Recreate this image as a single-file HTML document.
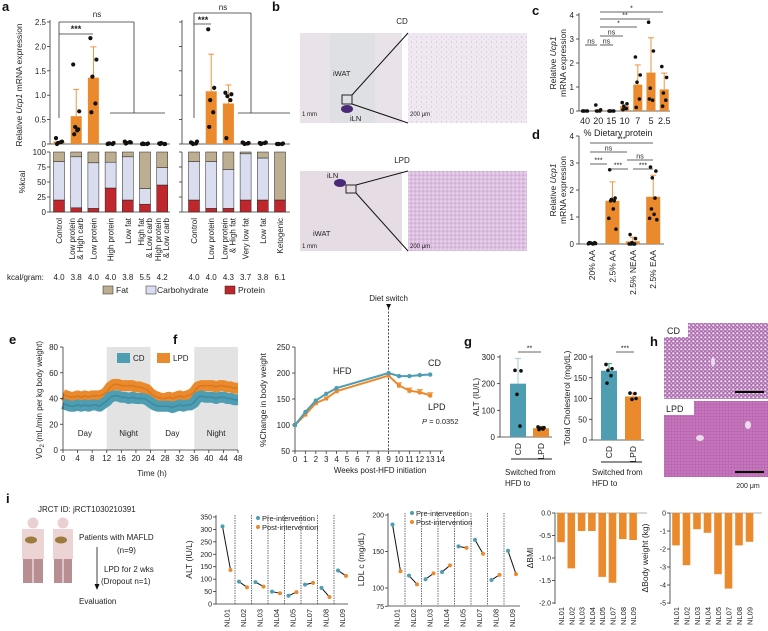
<!DOCTYPE html>
<html><head><meta charset="utf-8"><style>
html,body{margin:0;padding:0;background:#fff;}
svg{display:block;font-family:"Liberation Sans",Arial,sans-serif;}
</style></head><body>
<svg id="fig" width="768" height="631" viewBox="0 0 768 631" xmlns="http://www.w3.org/2000/svg">
<defs>
<pattern id="pWat" width="5" height="5" patternUnits="userSpaceOnUse"><rect width="5" height="5" fill="#f0e9f2"/><circle cx="1.5" cy="2" r="0.5" fill="#bfa5ca"/><circle cx="4" cy="4.2" r="0.4" fill="#d2bdd9"/></pattern>
<pattern id="pWat2" width="4" height="4" patternUnits="userSpaceOnUse"><rect width="4" height="4" fill="#dcbfe0"/><circle cx="1.2" cy="1.2" r="0.8" fill="#efe3f1"/><circle cx="3.2" cy="3.2" r="0.5" fill="#b888c4"/></pattern>
<pattern id="pHcd" width="4" height="4" patternUnits="userSpaceOnUse"><rect width="4" height="4" fill="#b26cb0"/><circle cx="1.3" cy="1.3" r="1.1" fill="#e8e0ee"/><circle cx="3.3" cy="3.2" r="0.7" fill="#ddd2e6"/></pattern>
<pattern id="pHlpd" width="3" height="3" patternUnits="userSpaceOnUse"><rect width="3" height="3" fill="#c06cb6"/><circle cx="1" cy="1" r="0.45" fill="#d9a6d2"/><circle cx="2.4" cy="2.4" r="0.35" fill="#a14d9c"/></pattern>
</defs>
</svg>
<script>
// ---------- data ----------
const aCats1=['Control','Low protein|& High carb','Low protein','High protein','Low fat','High fat|& Low carb','High protein|& Low carb'];
const aBar1=[0.05,0.57,1.36,0.01,0.03,0.01,0.01];
const aErr1=[0.08,1.12,1.99,0.02,0.05,0.02,0.02];
const aDots1=[[0.12,0.05,0.02,0.04,0.0],[1.63,0.67,0.35,0.3,0.2,0.28],[2.17,1.73,1.38,0.83,0.65],[0.0,0.02,0.01,0.0,0.01],[0.05,0.03,0.02,0.04,0.01],[0.0,0.01,0.0,0.0,0.01],[0.01,0.0,0.02,0.0,0.0]];
const aProt1=[20,7,6,40,20,13,45];
const aCarb1=[64,85,76,43,72,26,29];
const aKcal1=['4.0','3.8','4.0','4.0','3.8','5.5','4.2'];
const aCats2=['Control','Low protein','Low protein|& High fat','Very low fat','Low fat','Ketogenic'];
const aBar2=[0.02,1.08,0.83,0.02,0.02,0.0];
const aErr2=[0.04,1.84,1.21,0.03,0.03,0.01];
const aDots2=[[0.03,0.05,0.0,0.01,0.02],[2.35,1.15,0.9,0.65,0.35],[1.05,1.02,0.98,0.9,0.12],[0.03,0.02,0.0,0.01,0.02],[0.02,0.03,0.01,0.02,0.0],[0.0,0.01,0.0,0.0,0.0]];
const aProt2=[20,6,6,20,20,20];
const aCarb2=[64,78,65,77,70,0];
const aKcal2=['4.0','4.0','4.3','3.7','3.8','6.1'];
const cCats=['40','20','15','10','7','5','2.5'];
const cBar=[0.02,0.05,0.02,0.2,1.1,1.6,0.9];
const cErr=[0.03,0.1,0.03,0.3,1.92,3.05,1.58];
const cDots=[[0,0,0,0,0],[0.25,0.05,0,0,0],[0,0,0,0,0],[0.35,0.3,0.2,0.1,0.05],[2.25,1.5,1.2,0.5,0.15],[3.7,2.5,0.95,0.45,0.5],[1.85,1.4,0.75,0.45,0.2]];
const dCats=['20% AA','2.5% AA','2.5% NEAA','2.5% EAA'];
const dBar=[0.02,1.6,0.1,1.75];
const dErr=[0.05,2.3,0.25,2.55];
const dDots=[[0.05,0.05,0.03,0.02,0.04,0.0,0.01,0.02],[2.75,1.7,1.65,1.6,1.6,1.3,0.95,0.55],[0.35,0.2,0.05,0,0,0,0],[2.85,2.7,2.45,1.7,1.3,1.1,0.95,0.9]];
const eHours=[0,1,2,3,4,5,6,7,8,9,10,11,12,13,14,15,16,17,18,19,20,21,22,23,24,25,26,27,28,29,30,31,32,33,34,35,36,37,38,39,40,41,42,43,44,45,46,47,48];
const eCD=[36,35,34,34,35,34,35,34,35,35,34,36,38,41,42,42,41,41,40,41,40,40,40,39,37,35,34,34,34,34,33,34,35,34,35,35,37,41,42,41,41,41,40,41,41,40,40,39,39];
const eLPD=[43,42,41,41,42,41,42,41,42,42,42,43,45,49,51,51,50,50,50,50,49,49,48,47,44,42,41,40,40,41,40,41,42,41,42,43,45,49,50,50,50,50,49,50,50,49,49,48,48];
const fWeeks=[0,1,2,3,4,9,10,11,12,13];
const fCD=[100,125,147,160,171,200,194,194,196,197];
const fLPD=[100,120,142,151,165,195,176,166,163,157];
const gAltMean=[200,33];
const gAltDots=[[250,248,160,41],[38,35,32,30,28,33]];
const gAltErr=[295,40];
const gCholMean=[167,105];
const gCholDots=[[182,172,168,155,137],[113,100,98,112]];
const gCholErr=[184,113];
const iPts=['NL01','NL02','NL03','NL04','NL05','NL07','NL08','NL09'];
const iAltPre=[312,90,88,50,33,78,65,135];
const iAltPost=[137,67,70,43,48,85,28,113];
const iLdlPre=[187,117,112,122,157,166,111,151];
const iLdlPost=[123,105,120,131,155,147,118,119];
const iBmi=[-0.65,-1.23,-0.4,-0.4,-1.42,-1.55,-0.58,-0.6];
const iBw=[-1.8,-2.9,-0.9,-1.1,-3.4,-4.2,-1.8,-1.6];

// ---------- helpers ----------
const NS='http://www.w3.org/2000/svg';
const svg=document.getElementById('fig');
const OR='#ea8a2c', BL='#4f9db2', TXT='#222';
function mk(tag,attrs,name){
  const el=document.createElementNS(NS,tag);
  for(const k in attrs) el.setAttribute(k,attrs[k]);
  
  
  svg.appendChild(el);
  return el;
}
function ln(x1,y1,x2,y2,name,sw,col,dash){const a={x1:x1,y1:y1,x2:x2,y2:y2,stroke:col||'#333','stroke-width':sw||0.8};if(dash)a['stroke-dasharray']=dash;return mk('line',a,name);}
function tx(x,y,s,name,o){o=o||{};const a={x:x,y:y,'font-size':o.fs||8,fill:o.fill||TXT,'text-anchor':o.a||'start'};if(o.rot)a.transform='rotate('+o.rot+' '+x+' '+y+')';if(o.fw)a['font-weight']=o.fw;if(o.fst)a['font-style']=o.fst;const t=mk('text',a,name);if(o.html)t.innerHTML=s;else t.textContent=s;return t;}
function rc(x,y,w,h,fill,name,stroke,sw){const a={x:x,y:y,width:w,height:Math.max(0,h),fill:fill};if(stroke){a.stroke=stroke;a['stroke-width']=sw||0.6;}return mk('rect',a,name);}
function dot(x,y,name,r,fill){return mk('circle',{cx:x,cy:y,r:r||2.1,fill:fill||'#111'},name);}
const jit=[-3,3,-1,2,-2,1,-4,4];
function errbar(x,y1,y2,col,name){ln(x,y1,x,y2,name,0.9,col);ln(x-3,y2,x+3,y2,name+'-cap',0.9,col);}
function bracket(x1,x2,y,label,name,fs){ln(x1,y,x2,y,name,0.8,'#333');tx((x1+x2)/2,y-1.5,label,name+'-label',{fs:fs||7,a:'middle'});}

// ---------- panel letters ----------
[['a',2,11],['b',272,11],['c',532,15],['d',532,139],['e',9,344],['f',173,344],['g',464,346],['h',650,346],['i',6,503]].forEach(p=>tx(p[1],p[2],p[0],'panel-label-'+p[0],{fs:13,fw:'bold',fill:'#111'}));

// ---------- panel a ----------
function yA(v){return 144-v*48.8;}
function yS(p){return 212-p*0.6;}
function drawA(cats,bars,errs,dots,prot,carb,kcal,x0,axisX,axisEnd,labels,tag){
  ln(axisX,20,axisX,144,'a-'+tag+'-y-axis');
  ln(axisX,144,axisEnd,144,'a-'+tag+'-x-axis');
  ln(axisX,152,axisX,212,'a-'+tag+'-kcal-y-axis');
  ln(axisX,212,axisEnd,212,'a-'+tag+'-kcal-x-axis');
  [0,0.5,1,1.5,2,2.5].forEach(v=>{ln(axisX-3,yA(v),axisX,yA(v),'a-'+tag+'-tick');if(labels)tx(axisX-4,yA(v)+3,v===0?'0':v.toFixed(1),'a-y-tick-label',{a:'end'});});
  [0,25,50,75,100].forEach(v=>{ln(axisX-3,yS(v),axisX,yS(v),'a-'+tag+'-kcal-tick');if(labels)tx(axisX-4,yS(v)+3,String(v),'a-kcal-tick-label',{a:'end'});});
  cats.forEach((c,i)=>{
    const x=x0+i*17.2;
    rc(x-5.5,yA(bars[i]),11,144-yA(bars[i]),OR,'a-bar-'+tag+'-'+i);
    if(bars[i]>0.1) errbar(x,yA(bars[i]),yA(errs[i]),OR,'a-error-bar');
    dots[i].forEach((v,j)=>dot(x+jit[j],yA(v),'a-dot'));
    const p=prot[i],cb=carb[i],f=100-p-cb;
    rc(x-5.5,yS(p),11,p*0.6,'#c0272d','a-protein-segment','#222',0.5);
    rc(x-5.5,yS(p+cb),11,cb*0.6,'#d9ddef','a-carb-segment','#222',0.5);
    rc(x-5.5,yS(100),11,f*0.6,'#bdad91','a-fat-segment','#222',0.5);
    const parts=c.split('|');
    if(parts.length===1) tx(x+3,218,parts[0],'a-x-label',{a:'end',rot:-90});
    else {tx(x-1,218,parts[0],'a-x-label',{a:'end',rot:-90});tx(x+7,218,parts[1],'a-x-label',{a:'end',rot:-90});}
    tx(x,280,kcal[i],'a-kcal-value',{a:'middle'});
  });
}
drawA(aCats1,aBar1,aErr1,aDots1,aProt1,aCarb1,aKcal1,59,50,170,true,'left');
drawA(aCats2,aBar2,aErr2,aDots2,aProt2,aCarb2,aKcal2,194,182,290,false,'right');
tx(22,85,'Relative <tspan font-style="italic">Ucp1</tspan> mRNA expression','a-y-axis-title',{a:'middle',rot:-90,fs:8.5,html:true});
tx(25,182,'%kcal','a-kcal-axis-title',{a:'middle',rot:-90,fs:8.5});
tx(7,280,'kcal/gram:','a-kcal-label');
ln(59,22,134,22,'a-ns-bracket');ln(59,22,59,118,'a-ns-bracket-left');ln(134,22,134,113,'a-ns-bracket-right');ln(110,113,165,113,'a-ns-bracket-span');
tx(97,17,'ns','a-ns-label',{a:'middle'});
ln(59,34,93,34,'a-star-bracket');tx(76,32,'***','a-star-label',{a:'middle',fs:9,fw:'bold'});
ln(194,13,251,13,'a2-ns-bracket');ln(194,13,194,118,'a2-ns-bracket-left');ln(251,13,251,113,'a2-ns-bracket-right');ln(238,113,290,113,'a2-ns-bracket-span');
tx(223,10,'ns','a2-ns-label',{a:'middle'});
ln(194,24,211,24,'a2-star-bracket');tx(203,23,'***','a2-star-label',{a:'middle',fs:9,fw:'bold'});
rc(103,286,10,8,'#bdad91','legend-fat-swatch','#222',0.5);tx(116,293,'Fat','legend-fat',{fs:8.5});
rc(146,286,10,8,'#d9ddef','legend-carb-swatch','#222',0.5);tx(157,293,'Carbohydrate','legend-carb',{fs:8.5});
rc(225,286,10,8,'#c0272d','legend-protein-swatch','#222',0.5);tx(238,293,'Protein','legend-protein',{fs:8.5});

// ---------- panel b ----------
tx(402,24,'CD','b-cd-title',{a:'middle'});
rc(300,33,102,90,'#e9e2e8','b-cd-whole-section');
rc(330,33,45,90,'#dfe0e3','b-cd-mid-strip');
mk('ellipse',{cx:347,cy:109,rx:6,ry:4,fill:'#4a2a78'},'b-cd-iln');
rc(408,33,119,90,'url(#pWat)','b-cd-zoom-image');
rc(342,95,10,9,'none','b-cd-zoom-box','#111',0.9);
ln(352,95,408,33,'b-cd-zoom-line',1,'#111');ln(352,104,408,123,'b-cd-zoom-line',1,'#111');
tx(333,76,'iWAT','b-cd-iwat',{fs:7.5});tx(350,121,'iLN','b-cd-iln-label',{fs:7.5});
tx(302,116,'1 mm','b-scale-label',{fs:6});tx(410,116,'200 μm','b-scale-label',{fs:6});
tx(402,163,'LPD','b-lpd-title',{a:'middle'});
rc(300,171,102,80,'#e6dce4','b-lpd-whole-section');
mk('ellipse',{cx:340,cy:183,rx:6,ry:4,fill:'#4a2a78'},'b-lpd-iln');
rc(408,171,119,80,'url(#pWat2)','b-lpd-zoom-image');
rc(346,185,10,8,'none','b-lpd-zoom-box','#111',0.9);
ln(356,185,408,171,'b-lpd-zoom-line',1,'#111');ln(356,193,408,251,'b-lpd-zoom-line',1,'#111');
tx(327,178,'iLN','b-lpd-iln-label',{fs:7.5});tx(313,236,'iWAT','b-lpd-iwat',{fs:7.5});
tx(302,248,'1 mm','b-scale-label',{fs:6});tx(410,248,'200 μm','b-scale-label',{fs:6});

// ---------- panel c ----------
function yC(v){return 111-v*24;}
ln(579,13,579,111,'c-y-axis');ln(579,111,670,111,'c-x-axis');
[0,1,2,3,4].forEach(v=>{ln(576,yC(v),579,yC(v),'c-tick');tx(574,yC(v)+3,String(v),'c-y-tick-label',{a:'end'});});
cCats.forEach((c,i)=>{const x=585+i*13.2;
  rc(x-4.5,yC(cBar[i]),9,111-yC(cBar[i]),OR,'c-bar-'+c);
  if(cBar[i]>0.5) errbar(x,yC(cBar[i]),yC(cErr[i]),OR,'c-error-bar');
  cDots[i].forEach((v,j)=>dot(x+jit[j]*0.8,yC(v),'c-dot',1.8));
  tx(x,124,c,'c-x-label',{a:'middle',fs:9});});
tx(618,136,'% Dietary protein','c-x-axis-title',{a:'middle',fs:9});
tx(556,63,'Relative <tspan font-style="italic">Ucp1</tspan>','c-y-axis-title',{a:'middle',rot:-90,fs:8.5,html:true});
tx(566,63,'mRNA expression','c-y-axis-title-2',{a:'middle',rot:-90,fs:8.5});
bracket(600,663,12,'*','c-bracket');bracket(600,650,19,'**','c-bracket');bracket(600,637,27,'*','c-bracket');
bracket(600,623,36,'ns','c-bracket');bracket(585,597,45,'ns','c-bracket');bracket(600,613,45,'ns','c-bracket');

// ---------- panel d ----------
function yD(v){return 244-v*27;}
ln(579,136,579,244,'d-y-axis');ln(579,244,664,244,'d-x-axis');
[0,1,2,3,4].forEach(v=>{ln(576,yD(v),579,yD(v),'d-tick');tx(574,yD(v)+3,String(v),'d-y-tick-label',{a:'end'});});
dCats.forEach((c,i)=>{const x=592+i*20.4;
  rc(x-7,yD(dBar[i]),14,244-yD(dBar[i]),OR,'d-bar-'+i);
  if(dBar[i]>0.05) errbar(x,yD(dBar[i]),yD(dErr[i]),OR,'d-error-bar');
  dDots[i].forEach((v,j)=>dot(x+jit[j]*0.9,yD(v),'d-dot',1.8));
  tx(x+3,250,c,'d-x-label',{a:'end',rot:-90,fs:8.5});});
tx(556,190,'Relative <tspan font-style="italic">Ucp1</tspan>','d-y-axis-title',{a:'middle',rot:-90,fs:8.5,html:true});
tx(566,190,'mRNA expression','d-y-axis-title-2',{a:'middle',rot:-90,fs:8.5});
bracket(590,653,143,'***','d-bracket');bracket(590,627,152,'ns','d-bracket');
bracket(590,607,164,'***','d-bracket');bracket(627,653,160,'ns','d-bracket');
bracket(608,628,169,'***','d-bracket');bracket(633,653,169,'***','d-bracket');

// ---------- panel e ----------
function xE(h){return 63+h*3.646;}
function yE(v){return 450-v*1.2875;}
rc(xE(12),347,xE(24)-xE(12),103,'#e3e3e3','e-night-shade-1');
rc(xE(36),347,xE(48)-xE(36),103,'#e3e3e3','e-night-shade-2');
mk('polyline',{points:eHours.map((h,i)=>xE(h)+','+yE(eLPD[i])).join(' '),fill:'none',stroke:OR,'stroke-width':11,'stroke-linejoin':'round'},'e-lpd-series');
mk('polyline',{points:eHours.map((h,i)=>xE(h)+','+yE(eLPD[i])).join(' '),fill:'none',stroke:'#d9781e','stroke-width':1.5},'e-lpd-mean');
mk('polyline',{points:eHours.map((h,i)=>xE(h)+','+yE(eCD[i])).join(' '),fill:'none',stroke:BL,'stroke-width':11,'stroke-linejoin':'round'},'e-cd-series');
mk('polyline',{points:eHours.map((h,i)=>xE(h)+','+yE(eCD[i])).join(' '),fill:'none',stroke:'#3d8aa0','stroke-width':1.5},'e-cd-mean');
ln(63,347,63,450,'e-y-axis');ln(63,450,238,450,'e-x-axis');
[0,20,40,60,80].forEach(v=>{ln(60,yE(v),63,yE(v),'e-tick');tx(58,yE(v)+3,String(v),'e-y-tick-label',{a:'end'});});
for(let h=0;h<=48;h+=4){ln(xE(h),450,xE(h),453,'e-x-tick');tx(xE(h),461,String(h),'e-x-tick-label',{a:'middle'});}
tx(152,476,'Time (h)','e-x-axis-title',{a:'middle'});
tx(42,400,'VO<tspan font-size="6" dy="2">2</tspan><tspan dy="-2"> (mL/min per kg body weight)</tspan>','e-y-axis-title',{a:'middle',rot:-90,html:true});
[['Day',6],['Night',18],['Day',30],['Night',42]].forEach(d=>tx(xE(d[1]),436,d[0],'e-period-label',{a:'middle'}));
rc(117,353,13,10,BL,'e-legend-cd-swatch');tx(133,361,'CD','e-legend-cd');
rc(157,353,13,10,OR,'e-legend-lpd-swatch');tx(173,361,'LPD','e-legend-lpd');

// ---------- panel f ----------
function xF(w){return 295+w*10.4;}
function yF(v){return 451-(v-50)*0.52;}
ln(295,347,295,451,'f-y-axis');ln(295,451,443,451,'f-x-axis');
[50,100,150,200,250].forEach(v=>{ln(292,yF(v),295,yF(v),'f-tick');tx(290,yF(v)+3,String(v),'f-y-tick-label',{a:'end'});});
for(let w=0;w<=14;w++){ln(xF(w),451,xF(w),454,'f-x-tick');tx(xF(w),462,String(w),'f-x-tick-label',{a:'middle'});}
ln(xF(9),308,xF(9),451,'f-diet-switch-line',0.8,'#222','2,1.5');
mk('path',{d:'M'+(xF(9)-2.5)+',304 L'+(xF(9)+2.5)+',304 L'+xF(9)+',309 Z',fill:'#111'},'f-diet-switch-arrow');
tx(xF(9),301,'Diet switch','f-diet-switch-label',{a:'middle'});
mk('polyline',{points:fWeeks.map((w,i)=>xF(w)+','+yF(fLPD[i])).join(' '),fill:'none',stroke:OR,'stroke-width':2},'f-lpd-line');
fWeeks.forEach((w,i)=>{if(w>9)errbar(xF(w),yF(fLPD[i]-5),yF(fLPD[i]+5),OR,'f-lpd-error');rc(xF(w)-2,yF(fLPD[i])-2,4,4,OR,'f-lpd-marker');});
mk('polyline',{points:fWeeks.map((w,i)=>xF(w)+','+yF(fCD[i])).join(' '),fill:'none',stroke:BL,'stroke-width':2},'f-cd-line');
fWeeks.forEach((w,i)=>dot(xF(w),yF(fCD[i]),'f-cd-marker',2.2,BL));
tx(333,374,'HFD','f-hfd-label',{fs:9});tx(428,366,'CD','f-cd-label',{fs:9});tx(428,410,'LPD','f-lpd-label',{fs:9});
tx(422,424,'<tspan font-style="italic">P</tspan> = 0.0352','f-pvalue',{fs:7.5,html:true});
tx(380,473,'Weeks post-HFD initiation','f-x-axis-title',{a:'middle'});
tx(266,400,'%Change in body weight','f-y-axis-title',{a:'middle',rot:-90,fs:8.5});

// ---------- panel g ----------
function yG1(v){return 437-v*0.2667;}
function yG2(v){return 440-v*0.415;}
ln(500,355,500,437,'g-alt-y-axis');ln(500,437,552,437,'g-alt-x-axis');
[0,100,200,300].forEach(v=>{ln(497,yG1(v),500,yG1(v),'g-alt-tick');tx(495,yG1(v)+3,String(v),'g-alt-tick-label',{a:'end'});});
[518,541].forEach((x,i)=>{const col=i?OR:BL;rc(x-8,yG1(gAltMean[i]),16,437-yG1(gAltMean[i]),col,'g-alt-bar');
  errbar(x,yG1(gAltMean[i]),yG1(gAltErr[i]),i?OR:'#9fc6d2','g-alt-error');
  gAltDots[i].forEach((v,j)=>dot(x+jit[j],yG1(v),'g-alt-dot',1.8));
  tx(x+3,443,i?'LPD':'CD','g-alt-x-label',{a:'end',rot:-90,fs:8.5});});
bracket(518,541,352,'**','g-alt-bracket');
ln(511,459,552,459,'g-alt-group-line',1,'#222');
tx(505,475,'Switched from','g-alt-group-label');tx(505,486,'HFD to','g-alt-group-label-2');
tx(479,397,'ALT (IU/L)','g-alt-y-title',{a:'middle',rot:-90,fs:8.5});
ln(592,355,592,440,'g-chol-y-axis');ln(592,440,644,440,'g-chol-x-axis');
[0,50,100,150,200].forEach(v=>{ln(589,yG2(v),592,yG2(v),'g-chol-tick');tx(587,yG2(v)+3,String(v),'g-chol-tick-label',{a:'end'});});
[609,633].forEach((x,i)=>{const col=i?OR:BL;rc(x-8,yG2(gCholMean[i]),16,440-yG2(gCholMean[i]),col,'g-chol-bar');
  errbar(x,yG2(gCholMean[i]),yG2(gCholErr[i]),i?OR:'#2a9d6a','g-chol-error');
  gCholDots[i].forEach((v,j)=>dot(x+jit[j],yG2(v),'g-chol-dot',1.8));
  tx(x+3,446,i?'LPD':'CD','g-chol-x-label',{a:'end',rot:-90,fs:8.5});});
bracket(616,634,352,'***','g-chol-bracket');
ln(601,462,642,462,'g-chol-group-line',1,'#222');
tx(592,475,'Switched from','g-chol-group-label');tx(592,486,'HFD to','g-chol-group-label-2');
tx(570,398,'Total Cholesterol (mg/dL)','g-chol-y-title',{a:'middle',rot:-90,fs:8.5});

// ---------- panel h ----------
rc(664,323,104,76,'url(#pHcd)','h-cd-image');
rc(664,401,104,76,'url(#pHlpd)','h-lpd-image');
rc(664,323,24,14,'#fff','h-cd-label-bg');tx(667,334,'CD','h-cd-label',{fs:9});
rc(664,401,30,14,'#fff','h-lpd-label-bg');tx(666,412,'LPD','h-lpd-label',{fs:9});
mk('ellipse',{cx:713,cy:362,rx:2,ry:5,fill:'#eadcea'},'h-cd-vessel');
mk('ellipse',{cx:700,cy:438,rx:4,ry:3,fill:'#eadcea'},'h-lpd-vessel');mk('ellipse',{cx:748,cy:425,rx:3,ry:4,fill:'#eadcea'},'h-lpd-vessel-2');
ln(735,392,764,392,'h-scale-bar',2,'#000');ln(735,472,764,472,'h-scale-bar-2',2,'#000');
tx(748,488,'200 μm','h-scale-label',{a:'middle',fs:7});

// ---------- panel i: schematic ----------
tx(38,512,'JRCT ID: jRCT1030210391','i-trial-id',{fs:8});
function person(cx,name,w){mk('circle',{cx:cx,cy:523,r:5.5,fill:'#e9cfcf'},name+'-head');
  rc(cx-w/2,529,w,30,'#ecd4d4',name+'-torso');
  rc(cx-w/2+1,559,w/2-1.5,24,'#b98e93',name+'-leg-left');rc(cx+0.5,559,w/2-1.5,24,'#b98e93',name+'-leg-right');
  mk('ellipse',{cx:cx-2,cy:540,rx:6,ry:3.5,fill:'#9c7b3f'},name+'-liver');}
person(33,'i-patient-1',22);person(63,'i-patient-2',20);
tx(79,540,'Patients with MAFLD','i-patients-label',{fs:8});
tx(117,553,'(n=9)','i-n-label',{fs:8});
ln(97,547,97,586,'i-flow-arrow',0.8,'#111');
mk('path',{d:'M94.5,584 L99.5,584 L97,590 Z',fill:'#111'},'i-flow-arrowhead');
tx(104,572,'LPD for 2 wks','i-lpd-label',{fs:8});tx(101,584,'(Dropout n=1)','i-dropout-label',{fs:8});
tx(79,604,'Evaluation','i-evaluation-label',{fs:8});

// ---------- panel i: paired plots ----------
function paired(pre,post,yf,ticks,axisX,sep0,top,bottom,title,tag){
  ln(axisX,top,axisX,bottom,tag+'-y-axis');ln(axisX,bottom,axisX+132,bottom,tag+'-x-axis');
  ticks.forEach(v=>{ln(axisX-3,yf(v),axisX,yf(v),tag+'-tick');tx(axisX-4,yf(v)+2.5,String(v),tag+'-tick-label',{a:'end',fs:7});});
  for(let k=0;k<7;k++){const sx=sep0+k*16.5;ln(sx,top,sx,bottom,tag+'-separator',0.7,'#333','1.5,1');}
  iPts.forEach((p,i)=>{const c=sep0-8.5+i*16.5;
    ln(c-4,yf(pre[i]),c+4,yf(post[i]),tag+'-pair-line',1,'#111');
    dot(c-4,yf(pre[i]),tag+'-pre-'+p,2,BL);dot(c+4,yf(post[i]),tag+'-post-'+p,2,OR);
    tx(c+3,609,p,tag+'-x-label',{a:'end',rot:-90,fs:7.5});});
  tx(axisX-24,(top+bottom)/2,title,tag+'-y-title',{a:'middle',rot:-90,fs:8.5});
}
function yI1(v){return 604-v*0.2486;}
function yI2(v){return 588-(v-100)*0.73;}
paired(iAltPre,iAltPost,yI1,[0,50,100,150,200,250,300,350],216,235,515,604,'ALT (IU/L)','i-alt');
paired(iLdlPre,iLdlPost,yI2,[75,100,150,200],388,405,513,606,'LDL c (mg/dL)','i-ldl');
dot(258,518,'i-alt-legend-pre',2,BL);tx(262,521,'Pre-intervention','i-alt-legend-pre-label',{fs:7.5});
dot(258,527,'i-alt-legend-post',2,OR);tx(262,530,'Post-intervention','i-alt-legend-post-label',{fs:7.5});
dot(412,513,'i-ldl-legend-pre',2,BL);tx(416,516,'Pre-intervention','i-ldl-legend-pre-label',{fs:7.5});
dot(412,522,'i-ldl-legend-post',2,OR);tx(416,525,'Post-intervention','i-ldl-legend-post-label',{fs:7.5});

function deltaBars(vals,yf,ticks,axisX,x0,step,title,tag,fmt){
  ln(axisX,513,axisX,604,tag+'-y-axis');ln(axisX,513,axisX+92,513,tag+'-zero-line',0.8,'#999');
  ticks.forEach(v=>{ln(axisX-3,yf(v),axisX,yf(v),tag+'-tick');tx(axisX-4,yf(v)+2.5,fmt(v),tag+'-tick-label',{a:'end',fs:7});});
  vals.forEach((v,i)=>{const x=x0+i*step;rc(x-3.8,513,7.6,yf(v)-513,OR,tag+'-bar-'+iPts[i]);
    tx(x+3,607,iPts[i],tag+'-x-label',{a:'end',rot:-90,fs:7.5});});
  tx(axisX-22,558,title,tag+'-y-title',{a:'middle',rot:-90,fs:8.5});
}
deltaBars(iBmi,v=>513-v*45,[0,-0.5,-1,-1.5,-2],555,561,10.3,'ΔBMI','i-bmi',v=>v.toFixed(1));
deltaBars(iBw,v=>513-v*18,[0,-1,-2,-3,-4,-5],670,676,10.5,'ΔBody weight (kg)','i-bw',v=>String(v));
</script>
</body></html>
